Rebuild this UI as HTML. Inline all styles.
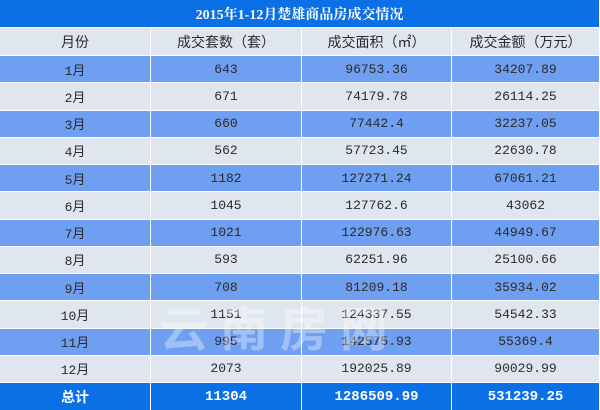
<!DOCTYPE html>
<html><head><meta charset="utf-8"><style>
body{margin:0;width:600px;height:410px;overflow:hidden;background:#fff;position:relative}
.r{position:absolute;left:0;width:600px;display:flex}
.r div{box-sizing:border-box;border-right:1px solid #fff;border-bottom:1px solid #fff;display:flex;align-items:center;justify-content:center;font-size:13px;color:#2a2a2a;font-family:"Liberation Mono","Noto Sans CJK SC",monospace}
.c1{width:151px}.c2{width:151px}.c3{width:150px}.c4{width:148px}
.t div{width:600px;background:#0b6fe6;color:#fff;font-weight:bold;font-family:"Liberation Serif","Noto Serif CJK SC",serif;font-size:14px}
.h div{background:#dfe6ef;font-family:"Liberation Sans","Noto Sans CJK SC",sans-serif;font-size:14px}
.b div{background:#6f9ff0}
.l div{background:#dfe6ef}
.s div{background:#0b6fe6;color:#fff;font-weight:bold;font-size:14px;border-bottom:none}
.wm{position:absolute;left:160px;top:290px;font-size:48px;color:rgba(255,255,255,.35);font-weight:bold;letter-spacing:12px;font-family:"Noto Sans CJK SC",sans-serif}
</style></head><body>
<div class="r t" style="top:0;height:28px"><div>2015年1-12月楚雄商品房成交情况</div></div>
<div class="r h" style="top:28px;height:28px"><div class="c1">月份</div><div class="c2">成交套数（套）</div><div class="c3">成交面积（㎡）</div><div class="c4">成交金额（万元）</div></div>
<div class="r b" style="top:56px;height:27.25px"><div class="c1">1月</div><div class="c2">643</div><div class="c3">96753.36</div><div class="c4">34207.89</div></div>
<div class="r l" style="top:83.25px;height:27.25px"><div class="c1">2月</div><div class="c2">671</div><div class="c3">74179.78</div><div class="c4">26114.25</div></div>
<div class="r b" style="top:110.5px;height:27.25px"><div class="c1">3月</div><div class="c2">660</div><div class="c3">77442.4</div><div class="c4">32237.05</div></div>
<div class="r l" style="top:137.75px;height:27.25px"><div class="c1">4月</div><div class="c2">562</div><div class="c3">57723.45</div><div class="c4">22630.78</div></div>
<div class="r b" style="top:165px;height:27.25px"><div class="c1">5月</div><div class="c2">1182</div><div class="c3">127271.24</div><div class="c4">67061.21</div></div>
<div class="r l" style="top:192.25px;height:27.25px"><div class="c1">6月</div><div class="c2">1045</div><div class="c3">127762.6</div><div class="c4">43062</div></div>
<div class="r b" style="top:219.5px;height:27.25px"><div class="c1">7月</div><div class="c2">1021</div><div class="c3">122976.63</div><div class="c4">44949.67</div></div>
<div class="r l" style="top:246.75px;height:27.25px"><div class="c1">8月</div><div class="c2">593</div><div class="c3">62251.96</div><div class="c4">25100.66</div></div>
<div class="r b" style="top:274px;height:27.25px"><div class="c1">9月</div><div class="c2">708</div><div class="c3">81209.18</div><div class="c4">35934.02</div></div>
<div class="r l" style="top:301.25px;height:27.25px"><div class="c1">10月</div><div class="c2">1151</div><div class="c3">124337.55</div><div class="c4">54542.33</div></div>
<div class="r b" style="top:328.5px;height:27.25px"><div class="c1">11月</div><div class="c2">995</div><div class="c3">142575.93</div><div class="c4">55369.4</div></div>
<div class="r l" style="top:355.75px;height:27.25px"><div class="c1">12月</div><div class="c2">2073</div><div class="c3">192025.89</div><div class="c4">90029.99</div></div>
<div class="r s" style="top:383px;height:27px"><div class="c1">总计</div><div class="c2">11304</div><div class="c3">1286509.99</div><div class="c4">531239.25</div></div>
<div class="wm">云南房网</div>
</body></html>
